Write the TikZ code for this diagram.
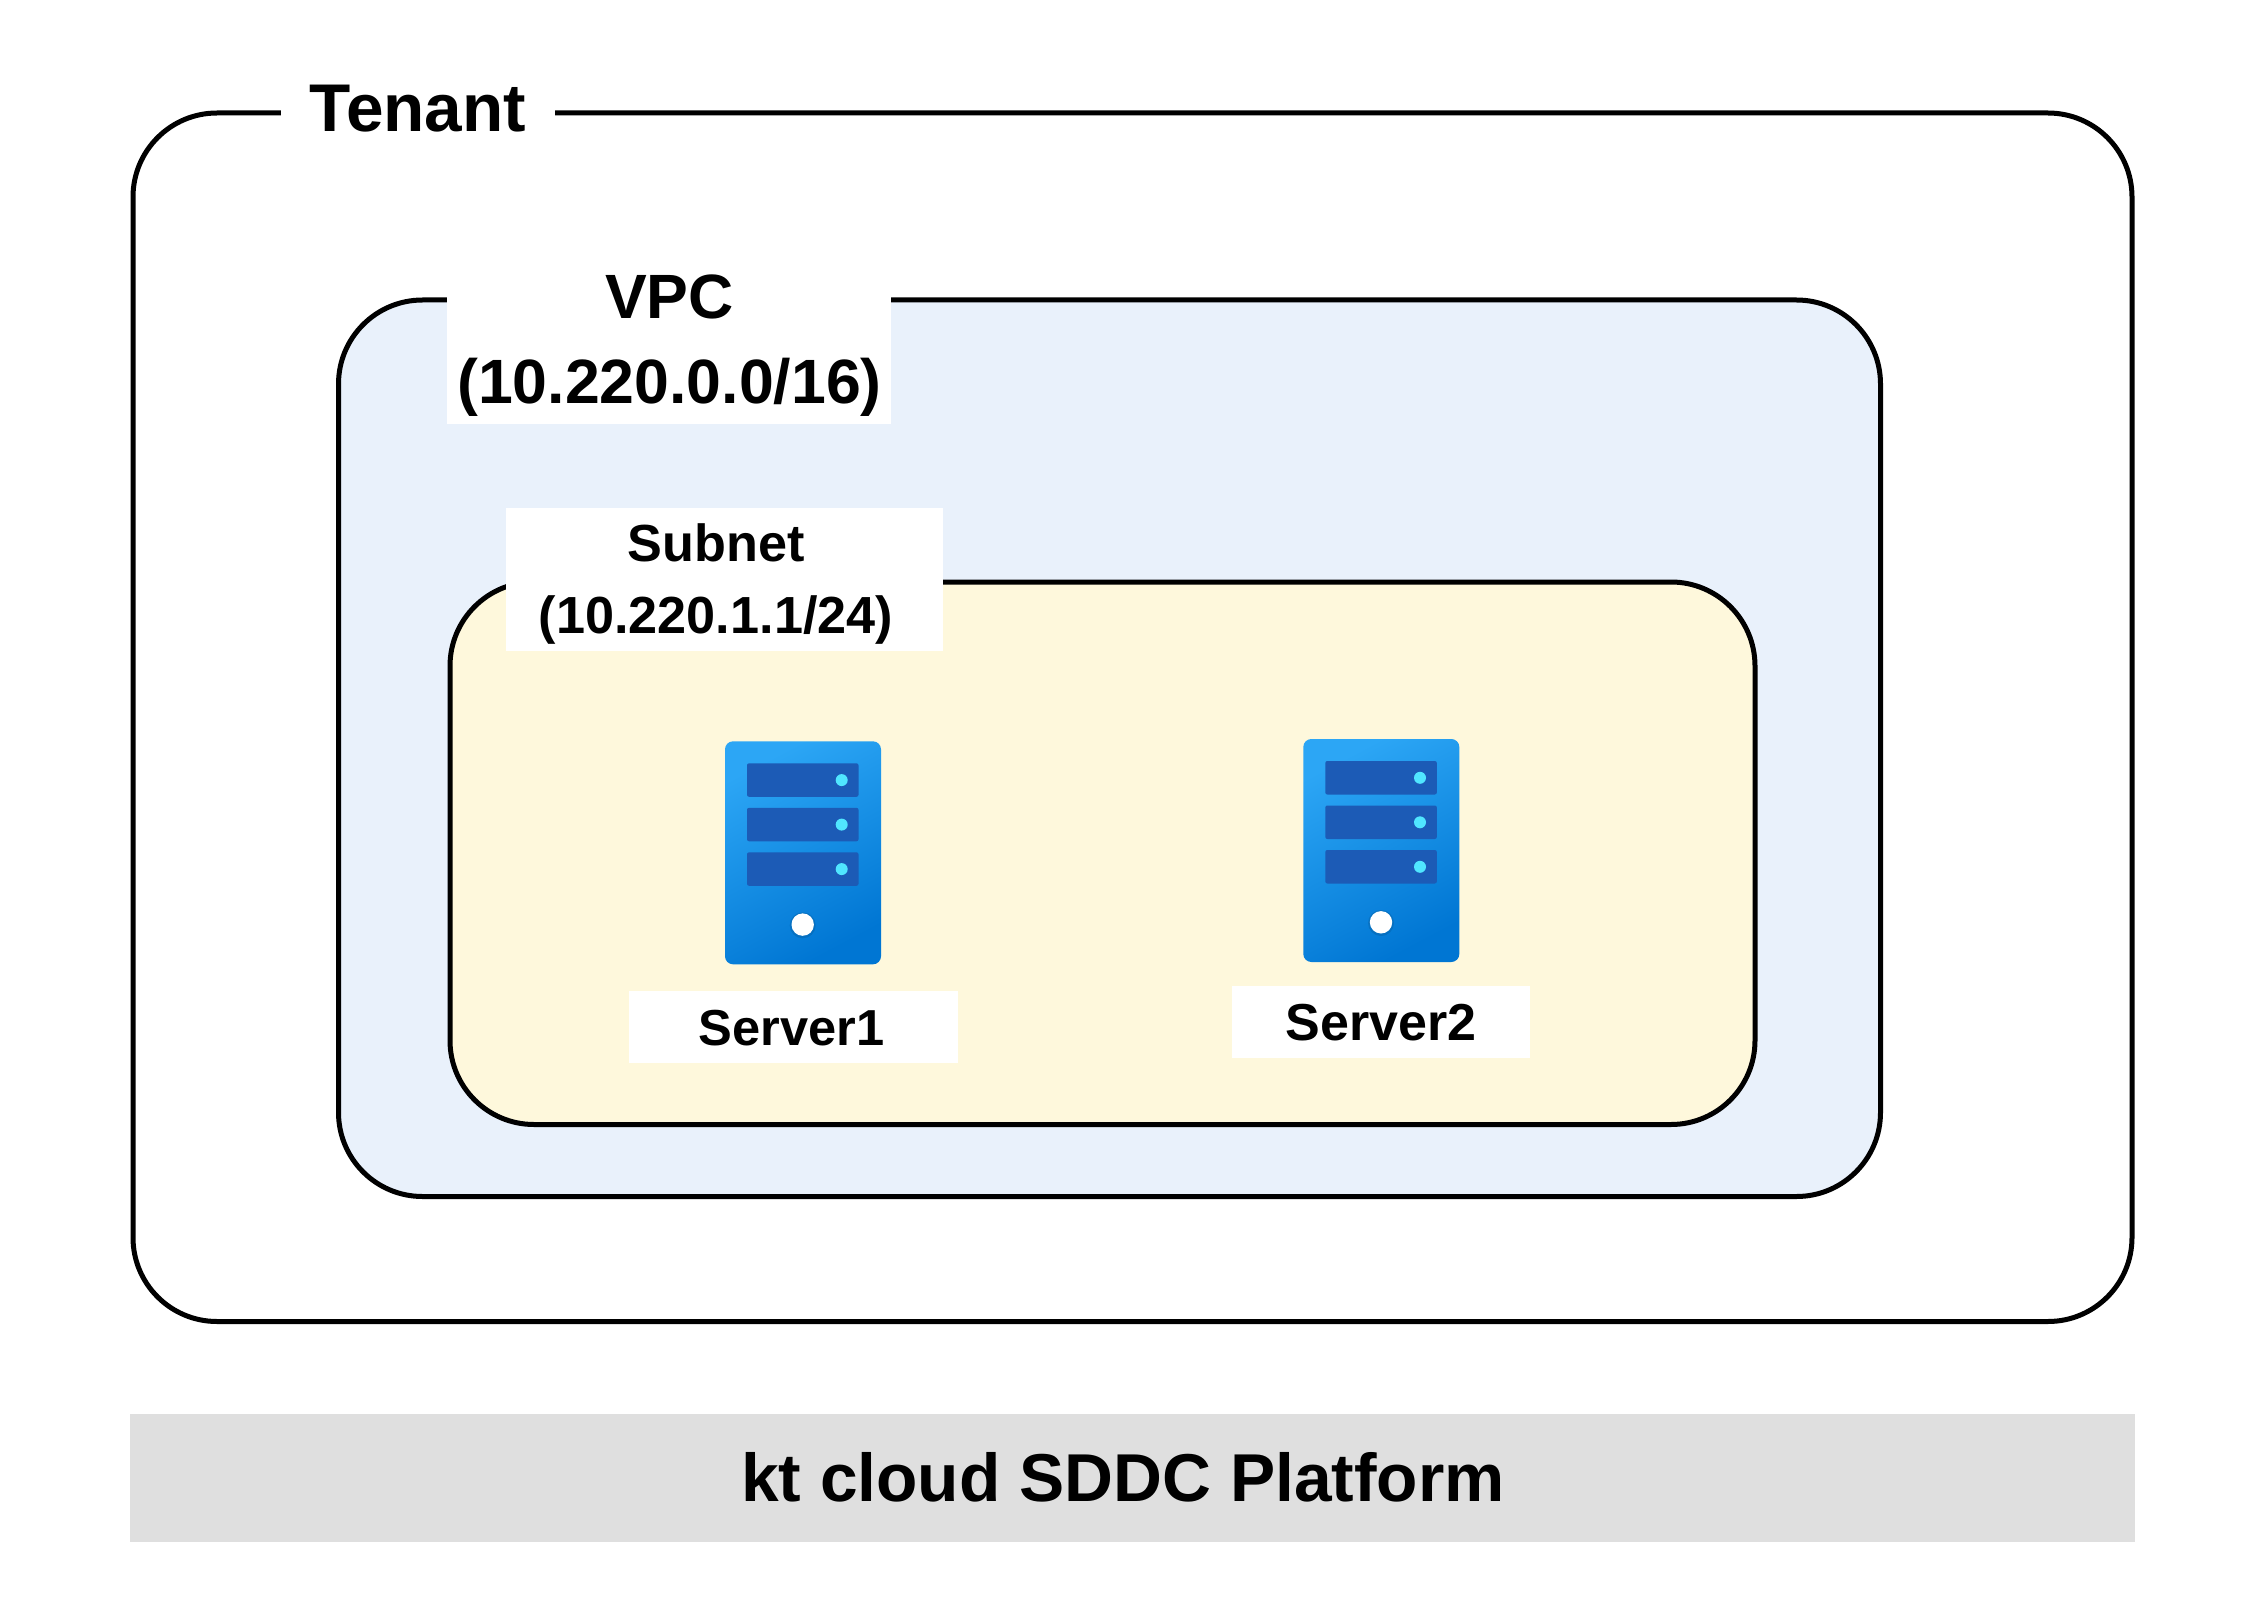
\documentclass[tikz,border=0pt]{standalone}
\usepackage{fontspec}
\setmainfont{Liberation Sans}
\definecolor{vpcfill}{HTML}{E9F1FB}
\definecolor{subfill}{HTML}{FEF8DC}
\definecolor{platfill}{HTML}{DFDFDF}
\definecolor{srvlight}{HTML}{2CA6F5}
\definecolor{srvdark}{HTML}{0076D3}
\definecolor{srvbar}{HTML}{1C5BB6}
\definecolor{srvdot}{HTML}{50E6FF}
\newcommand{\fs}[2]{\fontsize{#1}{#2}\selectfont\bfseries}
\tikzset{
  panel/.style={draw=black,line width=5pt,rounded corners=84pt,inner sep=0pt,outer sep=0pt},
  whitebox/.style={fill=white,inner sep=0pt,outer sep=0pt},
  label/.style={inner sep=0pt,outer sep=0pt,anchor=base,align=center,text=black},
  servericon/.pic={
    \shade[top color=srvlight,bottom color=srvdark,shading angle=28,rounded corners=8pt] (0,0) rectangle (156,223);
    \foreach \yy in {22,66.5,111}{
      \fill[srvbar,rounded corners=2pt] (22,\yy) rectangle (133.5,\yy+33.5);
      \fill[srvdot] (116.7,\yy+16.8) circle[radius=6];
    }
    \fill[black,opacity=.10] (77.7,184) circle[radius=13];
    \fill[white] (77.7,183.3) circle[radius=11.2];
  }
}
\begin{document}
\begin{tikzpicture}[x=1pt,y=-1pt]
\path[use as bounding box,fill=white] (0,0) rectangle (2268,1602);
% panels
\node[panel,fill=white,minimum width=1999pt,minimum height=1208.5pt] (tenant) at (1132.5,717.25) {};
\node[panel,fill=vpcfill,minimum width=1542pt,minimum height=896.5pt] (vpc) at (1109.5,748.25) {};
\node[panel,fill=subfill,minimum width=1305pt,minimum height=542.5pt] (subnet) at (1102.5,853.25) {};
\node[fill=platfill,inner sep=0pt,outer sep=0pt,minimum width=2005pt,minimum height=128pt] (platform) at (1132.5,1478.2) {};
% white label backgrounds
\node[whitebox,minimum width=274pt,minimum height=60pt] (tenantbg) at (418,110) {};
\node[whitebox,minimum width=444pt,minimum height=141pt] (vpcbg) at (669,354) {};
\node[whitebox,minimum width=437pt,minimum height=143pt] (subnetbg) at (724.5,579.5) {};
\node[whitebox,minimum width=329pt,minimum height=72pt] (srv1bg) at (793,1027) {};
\node[whitebox,minimum width=298pt,minimum height=72pt] (srv2bg) at (1381,1022) {};
% server icons
\pic (srv1) at (725,741.3) {servericon};
\pic (srv2) at (1303.3,739) {servericon};
% labels
\node[label,font=\fs{67.5}{67.5}] (tenantlbl) at (418,131.5) {Tenant};
\node[label,font=\fs{62.6}{85}] (vpclbl) at (669.5,403.5) {VPC\\(10.220.0.0/16)};
\node[label,font=\fs{52.2}{71.5}] (subnetlbl) at (716,633.2) {Subnet\\(10.220.1.1/24)};
\node[label,font=\fs{50.6}{50.6}] (srv1lbl) at (791.5,1045.3) {Server1};
\node[label,font=\fs{52}{52}] (srv2lbl) at (1381,1040.5) {Server2};
\node[label,font=\fs{67.7}{67.7}] (platlbl) at (1123,1501) {kt cloud SDDC Platform};
\end{tikzpicture}
\end{document}
